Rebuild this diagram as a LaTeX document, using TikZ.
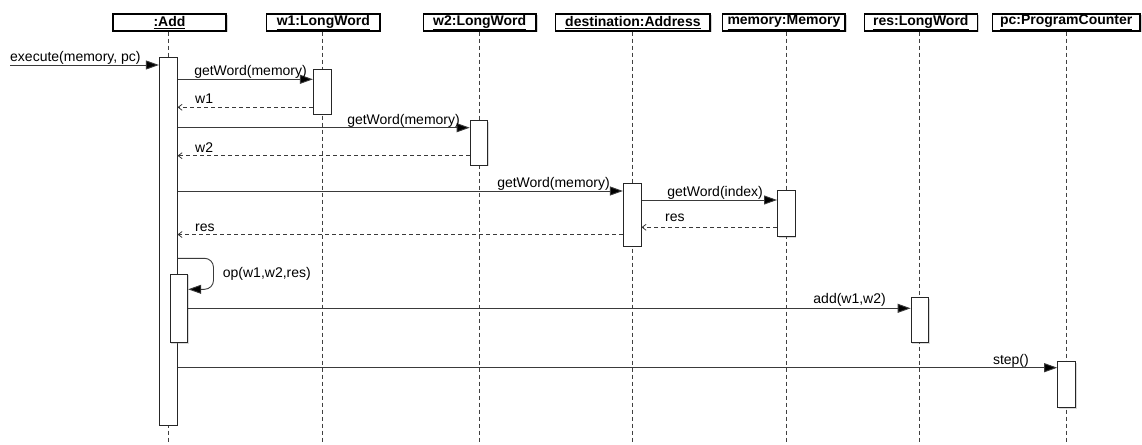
\documentclass[tikz,border=0pt]{standalone}
\usepackage{fontspec}
\setmainfont{Liberation Sans}
\usetikzlibrary{arrows.meta,shadows}
\definecolor{linec}{HTML}{3A3A3A}
\begin{document}
\begin{tikzpicture}[x=1pt,y=-1pt,
  head/.style={draw=black, line width=1.2pt, fill=white, minimum height=17pt, inner sep=0pt,
    font=\fontsize{14}{16}\selectfont\bfseries,
    drop shadow={shadow xshift=1.5pt, shadow yshift=-1.5pt, opacity=0.35}},
  bar/.style={draw=black!85, line width=0.9pt, fill=white, minimum width=17.7pt, inner sep=0pt,
    drop shadow={shadow xshift=1.2pt, shadow yshift=-1.2pt, opacity=0.3}},
  life/.style={draw=black!75, line width=0.9pt, dash pattern=on 4pt off 3pt},
  msg/.style={draw=linec, line width=0.9pt, -{Triangle[length=13pt,width=9pt,fill=black]}},
  ret/.style={draw=linec, line width=0.9pt, dash pattern=on 4pt off 3pt, -{Straight Barb[length=4pt,width=6pt,line width=0.8pt]}},
  lbl/.style={inner sep=0pt, font=\fontsize{14}{16}\selectfont, text=black},
]
\useasboundingbox (0,0) rectangle (1142,444);
\coordinate (bot) at (0,444);
% headers
\node[head, minimum width=113pt]   (add)  at (169.5,22.5) {\underline{:Add}};
\node[head, minimum width=113.3pt] (w1)   at (323.3,22.5) {\underline{w1:LongWord}};
\node[head, minimum width=112.7pt] (w2)   at (479.7,22.5) {\underline{w2:LongWord}};
\node[head, minimum width=154.3pt] (dst)  at (632.9,22.5) {\underline{destination:Address}};
\node[head, minimum width=122.3pt] (mem)  at (783.9,22.5) {\underline{memory:Memory}};
\node[head, minimum width=113pt]   (res)  at (920.8,22.5) {\underline{res:LongWord}};
\node[head, minimum width=147.7pt] (pc)   at (1066.2,22.5) {\underline{pc:ProgramCounter}};
% lifeline x positions
\coordinate (xa) at (168.2,0);
\coordinate (xw1) at (322.2,0);
\coordinate (xw2) at (479,0);
\coordinate (xd) at (632.2,0);
\coordinate (xm) at (786.3,0);
\coordinate (xr) at (919.9,0);
\coordinate (xp) at (1066.5,0);
\draw[life] (xa |- add.south) -- (xa |- bot);
\draw[life] (xw1 |- w1.south) -- (xw1 |- bot);
\draw[life] (xw2 |- w2.south) -- (xw2 |- bot);
\draw[life] (xd |- dst.south) -- (xd |- bot);
\draw[life] (xm |- mem.south) -- (xm |- bot);
\draw[life] (xr |- res.south) -- (xr |- bot);
\draw[life] (xp |- pc.south) -- (xp |- bot);
% activation bars
\node[bar, minimum height=368pt]  (a0)  at (168.2,241) {};
\node[bar, minimum height=44.7pt] (w1b) at (322.2,91.7) {};
\node[bar, minimum height=44.3pt] (w2b) at (479,142.9) {};
\node[bar, minimum height=62.7pt] (db)  at (632.2,214.7) {};
\node[bar, minimum height=46pt]   (mb)  at (786.3,213.7) {};
\node[bar, minimum height=68.7pt] (ab)  at (178.9,308.3) {};
\node[bar, minimum height=45pt]   (rb)  at (919.9,320.2) {};
\node[bar, minimum height=46pt]   (pb)  at (1066.5,384.3) {};
% message levels
\coordinate (ext) at (10,65);
\coordinate (y1) at (0,79.3);
\coordinate (r1) at (0,107.3);
\coordinate (y2) at (0,127.7);
\coordinate (r2) at (0,155.7);
\coordinate (y3) at (0,191);
\coordinate (y4) at (0,200);
\coordinate (r4) at (0,227.3);
\coordinate (r3) at (0,234.5);
\coordinate (s1) at (0,258.3);
\coordinate (s2) at (0,289.3);
\coordinate (y5) at (0,308.3);
\coordinate (y6) at (0,367.7);
% messages
\draw[msg] (ext) -- (a0.west |- ext);
\node[lbl, anchor=base west] at (10,61) {execute(memory, pc)};
\draw[msg] (a0.east |- y1) -- (w1b.west |- y1);
\node[lbl, anchor=base east] at (307,75) {getWord(memory)};
\draw[ret] (w1b.west |- r1) -- (a0.east |- r1);
\node[lbl, anchor=base west] at (195,103) {w1};
\draw[msg] (a0.east |- y2) -- (w2b.west |- y2);
\node[lbl, anchor=base east] at (460,124) {getWord(memory)};
\draw[ret] (w2b.west |- r2) -- (a0.east |- r2);
\node[lbl, anchor=base west] at (195,152) {w2};
\draw[msg] (a0.east |- y3) -- (db.west |- y3);
\node[lbl, anchor=base east] at (610,187) {getWord(memory)};
\draw[msg] (db.east |- y4) -- (mb.west |- y4);
\node[lbl, anchor=base east] at (763,196) {getWord(index)};
\draw[ret] (mb.west |- r4) -- (db.east |- r4);
\node[lbl, anchor=base west] at (665,221) {res};
\draw[ret] (db.west |- r3) -- (a0.east |- r3);
\node[lbl, anchor=base west] at (195,231) {res};
\draw[msg, rounded corners=9pt] (a0.east |- s1) -- ++(36,0) |- (ab.east |- s2);
\node[lbl, anchor=base west] at (222.7,277.5) {op(w1,w2,res)};
\draw[msg] (ab.east |- y5) -- (rb.west |- y5);
\node[lbl, anchor=base east] at (886,303.5) {add(w1,w2)};
\draw[msg] (a0.east |- y6) -- (pb.west |- y6);
\node[lbl, anchor=base east] at (1029,364.5) {step()};
\end{tikzpicture}
\end{document}
